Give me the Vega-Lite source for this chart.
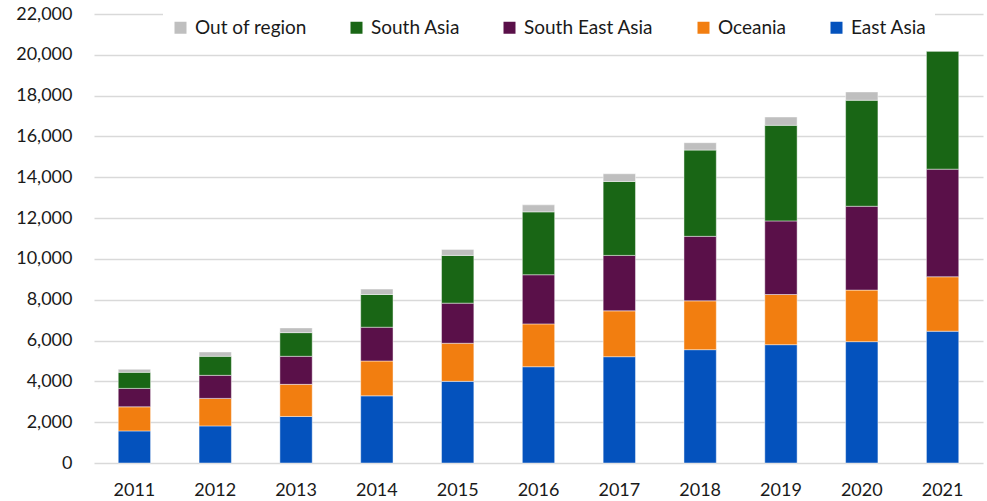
{
  "$schema": "https://vega.github.io/schema/vega-lite/v6.json",
  "width": 889,
  "height": 449,
  "autosize": "none",
  "padding": {"left": 94, "top": 14, "right": 4, "bottom": 38},
  "background": "white",
  "config": {
    "font": "Lato",
    "view": {"stroke": null},
    "axis": {"labelFont": "Lato", "labelFontSize": 18, "labelColor": "#1a1a1a"},
    "legend": {"labelFont": "Lato", "labelFontSize": 19, "labelColor": "#1a1a1a"}
  },
  "data": {
    "values": [
      {"year": "2011", "region": "East Asia", "order": 1, "value": 1572},
      {"year": "2011", "region": "Oceania", "order": 2, "value": 1180},
      {"year": "2011", "region": "South East Asia", "order": 3, "value": 904},
      {"year": "2011", "region": "South Asia", "order": 4, "value": 786},
      {"year": "2011", "region": "Out of region", "order": 5, "value": 148},
      {"year": "2012", "region": "East Asia", "order": 1, "value": 1818},
      {"year": "2012", "region": "Oceania", "order": 2, "value": 1347},
      {"year": "2012", "region": "South East Asia", "order": 3, "value": 1130},
      {"year": "2012", "region": "South Asia", "order": 4, "value": 933},
      {"year": "2012", "region": "Out of region", "order": 5, "value": 212},
      {"year": "2013", "region": "East Asia", "order": 1, "value": 2280},
      {"year": "2013", "region": "Oceania", "order": 2, "value": 1573},
      {"year": "2013", "region": "South East Asia", "order": 3, "value": 1375},
      {"year": "2013", "region": "South Asia", "order": 4, "value": 1160},
      {"year": "2013", "region": "Out of region", "order": 5, "value": 231},
      {"year": "2014", "region": "East Asia", "order": 1, "value": 3292},
      {"year": "2014", "region": "Oceania", "order": 2, "value": 1706},
      {"year": "2014", "region": "South East Asia", "order": 3, "value": 1655},
      {"year": "2014", "region": "South Asia", "order": 4, "value": 1603},
      {"year": "2014", "region": "Out of region", "order": 5, "value": 265},
      {"year": "2015", "region": "East Asia", "order": 1, "value": 4000},
      {"year": "2015", "region": "Oceania", "order": 2, "value": 1867},
      {"year": "2015", "region": "South East Asia", "order": 3, "value": 1966},
      {"year": "2015", "region": "South Asia", "order": 4, "value": 2339},
      {"year": "2015", "region": "Out of region", "order": 5, "value": 295},
      {"year": "2016", "region": "East Asia", "order": 1, "value": 4717},
      {"year": "2016", "region": "Oceania", "order": 2, "value": 2099},
      {"year": "2016", "region": "South East Asia", "order": 3, "value": 2408},
      {"year": "2016", "region": "South Asia", "order": 4, "value": 3081},
      {"year": "2016", "region": "Out of region", "order": 5, "value": 343},
      {"year": "2017", "region": "East Asia", "order": 1, "value": 5209},
      {"year": "2017", "region": "Oceania", "order": 2, "value": 2246},
      {"year": "2017", "region": "South East Asia", "order": 3, "value": 2717},
      {"year": "2017", "region": "South Asia", "order": 4, "value": 3622},
      {"year": "2017", "region": "Out of region", "order": 5, "value": 378},
      {"year": "2018", "region": "East Asia", "order": 1, "value": 5553},
      {"year": "2018", "region": "Oceania", "order": 2, "value": 2393},
      {"year": "2018", "region": "South East Asia", "order": 3, "value": 3160},
      {"year": "2018", "region": "South Asia", "order": 4, "value": 4226},
      {"year": "2018", "region": "Out of region", "order": 5, "value": 363},
      {"year": "2019", "region": "East Asia", "order": 1, "value": 5798},
      {"year": "2019", "region": "Oceania", "order": 2, "value": 2458},
      {"year": "2019", "region": "South East Asia", "order": 3, "value": 3606},
      {"year": "2019", "region": "South Asia", "order": 4, "value": 4683},
      {"year": "2019", "region": "Out of region", "order": 5, "value": 408},
      {"year": "2020", "region": "East Asia", "order": 1, "value": 5946},
      {"year": "2020", "region": "Oceania", "order": 2, "value": 2526},
      {"year": "2020", "region": "South East Asia", "order": 3, "value": 4108},
      {"year": "2020", "region": "South Asia", "order": 4, "value": 5194},
      {"year": "2020", "region": "Out of region", "order": 5, "value": 408},
      {"year": "2021", "region": "East Asia", "order": 1, "value": 6457},
      {"year": "2021", "region": "Oceania", "order": 2, "value": 2668},
      {"year": "2021", "region": "South East Asia", "order": 3, "value": 5273},
      {"year": "2021", "region": "South Asia", "order": 4, "value": 5784},
      {"year": "2021", "region": "Out of region", "order": 5, "value": 0}
    ]
  },
  "mark": {"type": "bar", "stroke": "white", "strokeWidth": 0.75, "strokeOpacity": 0.6},
  "encoding": {
    "x": {
      "field": "year",
      "type": "ordinal",
      "scale": {"paddingInner": 0.6, "paddingOuter": 0.3},
      "axis": {"title": null, "labelAngle": 0, "ticks": false, "domain": false, "labelPadding": 18, "grid": false}
    },
    "y": {
      "field": "value",
      "type": "quantitative",
      "aggregate": "sum",
      "stack": "zero",
      "scale": {"domain": [0, 22000], "nice": false},
      "axis": {
        "title": null,
        "values": [0, 2000, 4000, 6000, 8000, 10000, 12000, 14000, 16000, 18000, 20000, 22000],
        "format": ",d",
        "ticks": false,
        "domain": false,
        "labelPadding": 22,
        "gridColor": "#D9D9D9",
        "gridWidth": 1.5
      }
    },
    "color": {
      "field": "region",
      "type": "nominal",
      "scale": {
        "domain": ["Out of region", "South Asia", "South East Asia", "Oceania", "East Asia"],
        "range": ["#BFBFBF", "#196615", "#5A1049", "#F27E10", "#0452BD"]
      },
      "legend": {
        "title": null,
        "orient": "none",
        "direction": "horizontal",
        "legendX": 69,
        "legendY": -4,
        "fillColor": "white",
        "padding": 8,
        "symbolType": "square",
        "symbolSize": 144,
        "symbolStrokeWidth": 0,
        "labelOffset": 5,
        "columnPadding": 40
      }
    },
    "order": {"field": "order", "type": "quantitative"}
  }
}
